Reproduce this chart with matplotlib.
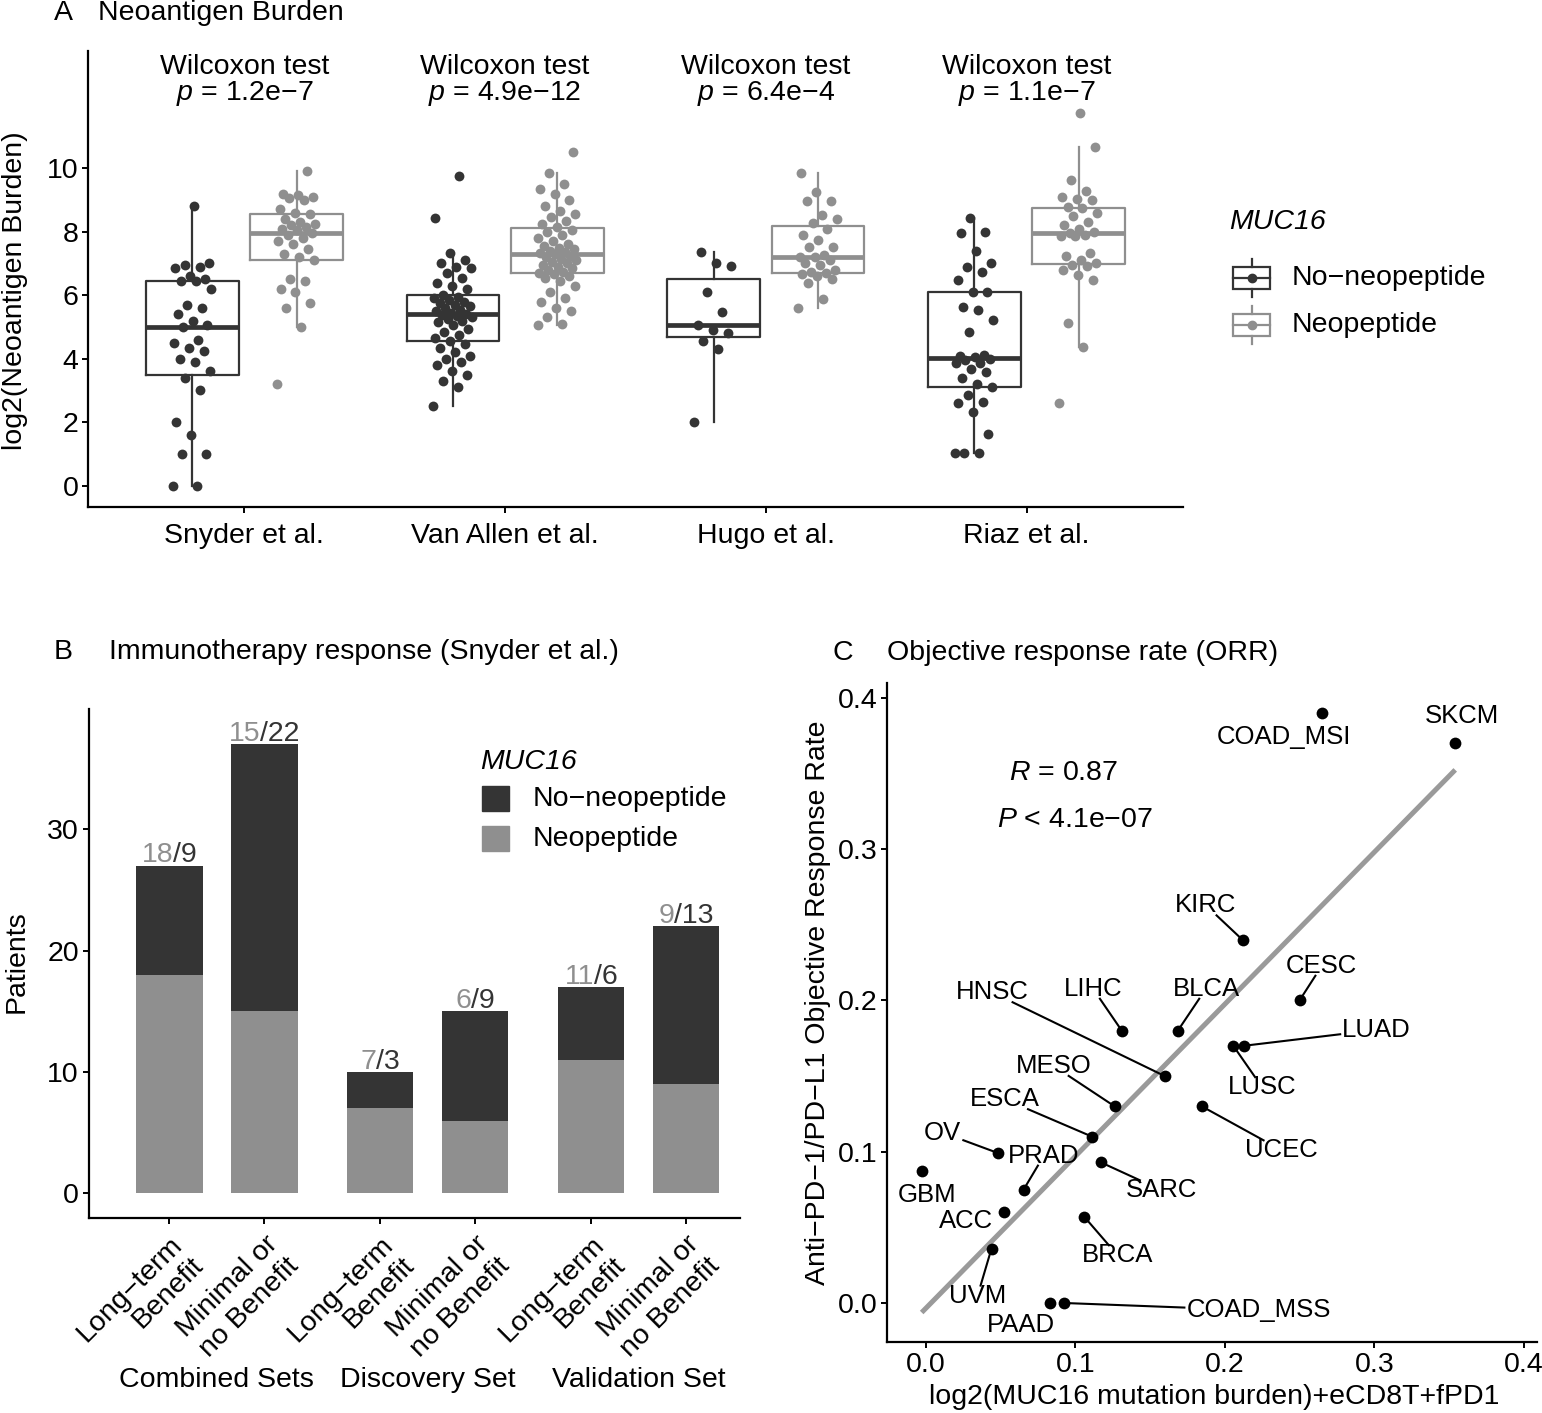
import numpy as np
import matplotlib

matplotlib.use("Agg")
import matplotlib.pyplot as plt
import matplotlib.transforms as mtrans
from matplotlib.lines import Line2D
from matplotlib.patches import Rectangle
from matplotlib.offsetbox import TextArea, HPacker, AnnotationBbox

plt.rcParams["font.family"] = ["Liberation Sans", "DejaVu Sans"]
plt.rcParams["mathtext.fontset"] = "custom"
plt.rcParams["mathtext.it"] = "Liberation Sans:italic"
plt.rcParams["mathtext.rm"] = "Liberation Sans"

W, H = 1542, 1413
DARK, LIGHT = "#343434", "#8f8f8f"
FS = 20.5

# ---------------- A: neoantigen burden per cohort ----------------
cohorts = ["Snyder et al.", "Van Allen et al.", "Hugo et al.", "Riaz et al."]
pvals = ["1.2e−7", "4.9e−12", "6.4e−4", "1.1e−7"]
groups = ["No−neopeptide", "Neopeptide"]

snyder_no = [0.0, 0.0, 1.0, 1.0, 1.6, 2.0, 3.0, 3.4, 3.6, 3.9, 4.0, 4.25, 4.35, 4.5, 4.6,
             5.0, 5.05, 5.2, 5.4, 5.6, 5.7, 6.2, 6.45, 6.45, 6.5, 6.6, 6.85, 6.9, 6.95, 7.0, 8.8]
snyder_neo = [3.2, 5.0, 5.6, 5.75, 6.1, 6.2, 6.45, 6.5, 7.1, 7.2, 7.3, 7.45, 7.6, 7.7, 7.8,
              7.9, 7.97, 8.05, 8.1, 8.15, 8.2, 8.25, 8.3, 8.4, 8.55, 8.6, 8.7, 9.0, 9.05, 9.1,
              9.15, 9.2, 9.9]
vanallen_no = [2.5, 3.1, 3.3, 3.5, 3.6, 3.8, 3.9, 4.0, 4.1, 4.2, 4.35, 4.45, 4.55, 4.65, 4.75,
               4.85, 4.95, 5.05, 5.15, 5.2, 5.25, 5.3, 5.35, 5.38, 5.41, 5.45, 5.5, 5.55, 5.6,
               5.65, 5.7, 5.75, 5.8, 5.85, 5.9, 5.95, 6.0, 6.2, 6.3, 6.4, 6.55, 6.7, 6.85, 6.9,
               7.0, 7.1, 7.34, 8.42, 9.76]
vanallen_neo = [5.06, 5.1, 5.3, 5.5, 5.6, 5.8, 5.9, 6.1, 6.3, 6.45, 6.55, 6.62, 6.68, 6.7, 6.72,
                6.8, 6.85, 6.9, 6.95, 7.0, 7.05, 7.1, 7.15, 7.2, 7.25, 7.29, 7.33, 7.37, 7.4,
                7.45, 7.5, 7.55, 7.6, 7.7, 7.8, 7.9, 8.0, 8.06, 8.15, 8.25, 8.35, 8.45, 8.55,
                8.65, 8.8, 9.0, 9.2, 9.35, 9.5, 9.84, 10.5]
hugo_no = [2.02, 4.3, 4.57, 4.8, 4.91, 5.06, 5.47, 6.11, 6.93, 7.03, 7.37]
hugo_neo = [5.59, 5.87, 6.38, 6.5, 6.6, 6.67, 6.69, 6.72, 6.8, 6.94, 7.0, 7.11, 7.2, 7.21, 7.26,
            7.51, 7.53, 7.74, 7.9, 8.1, 8.27, 8.39, 8.53, 8.98, 8.98, 9.26, 9.86]
riaz_no = [1.02, 1.02, 1.02, 1.62, 2.33, 2.62, 2.65, 2.86, 3.1, 3.2, 3.38, 3.59, 3.67, 3.86,
           3.86, 3.95, 4.0, 4.05, 4.1, 4.12, 4.85, 5.22, 5.54, 5.64, 6.11, 6.11, 6.48, 6.74,
           6.9, 7.0, 7.4, 7.95, 8.0, 8.42]
riaz_neo = [2.62, 4.36, 5.14, 6.48, 6.64, 6.8, 6.92, 6.95, 7.0, 7.11, 7.24, 7.32, 7.85, 7.88,
            7.9, 7.95, 8.0, 8.1, 8.21, 8.29, 8.5, 8.6, 8.74, 8.77, 9.0, 9.02, 9.09, 9.29, 9.63,
            10.68, 11.75]
burden_no = [snyder_no, vanallen_no, hugo_no, riaz_no]
burden_neo = [snyder_neo, vanallen_neo, hugo_neo, riaz_neo]

# ---------------- B: immunotherapy response (Snyder) ----------------
sets = ["Combined Sets", "Discovery Set", "Validation Set"]
benefit = ["Long−term\nBenefit", "Minimal or\nno Benefit"]
n_neo = [18, 15, 7, 6, 11, 9]
n_noneo = [9, 22, 3, 9, 6, 13]

# ---------------- C: ORR vs MUC16 score ----------------
tumours = ["COAD_MSI", "SKCM", "KIRC", "CESC", "LUAD", "LUSC", "BLCA", "LIHC", "HNSC", "MESO",
           "UCEC", "ESCA", "SARC", "OV", "GBM", "PRAD", "ACC", "BRCA", "UVM", "PAAD", "COAD_MSS"]
score = [0.2648, 0.354, 0.2118, 0.2499, 0.2127, 0.2056, 0.1685, 0.131, 0.1597, 0.1262, 0.1845,
         0.111, 0.1169, 0.0485, -0.0028, 0.0654, 0.0521, 0.1059, 0.0439, 0.0828, 0.0921]
orr = [0.39, 0.37, 0.24, 0.20, 0.17, 0.17, 0.18, 0.18, 0.15, 0.13, 0.13, 0.11, 0.093, 0.099,
       0.087, 0.075, 0.06, 0.057, 0.036, 0.0, 0.0]
# where the repelled labels sit (data units)
label_xy = {"COAD_MSI": (0.2394, 0.374), "SKCM": (0.3586, 0.3883), "KIRC": (0.1873, 0.2628),
            "CESC": (0.2648, 0.2229), "LUAD": (0.3014, 0.1805), "LUSC": (0.2248, 0.1427),
            "BLCA": (0.1873, 0.2077), "LIHC": (0.1118, 0.2077), "HNSC": (0.0442, 0.2054),
            "MESO": (0.0854, 0.1567), "UCEC": (0.238, 0.1009), "ESCA": (0.0527, 0.1347),
            "SARC": (0.1577, 0.0745), "OV": (0.0113, 0.1126), "GBM": (0.0008, 0.0716),
            "PRAD": (0.0789, 0.0974), "ACC": (0.0268, 0.0544), "BRCA": (0.1282, 0.0315),
            "UVM": (0.0346, 0.0049), "PAAD": (0.0634, -0.0143), "COAD_MSS": (0.2225, -0.0049)}


def fx(x):
    return x / W


def fy(y):
    return 1 - y / H


def style(ax):
    for s in ["top", "right"]:
        ax.spines[s].set_visible(False)
    for s in ["left", "bottom"]:
        ax.spines[s].set_linewidth(1.6)
    ax.tick_params(length=4, width=1.4, labelsize=FS, pad=3, colors="black")


fig = plt.figure(figsize=(W / 100, H / 100), dpi=100)

# ======================= panel A =======================
axA = fig.add_axes([fx(88), fy(506.7), fx(1183 - 88), (506.7 - 50.7) / H])
style(axA)
off = 0.2
for i in range(4):
    for g, (vals, col) in enumerate([(burden_no[i], DARK), (burden_neo[i], LIGHT)]):
        pos = i + 1 + (off if g else -off)
        axA.boxplot(vals, positions=[pos], widths=0.355, showfliers=False, showcaps=False,
                    boxprops=dict(color=col, lw=1.6), whiskerprops=dict(color=col, lw=1.6),
                    medianprops=dict(color=col, lw=3.4), manage_ticks=False)
        n = len(vals)
        # fixed horizontal spread so the points do not sit on one line
        jit = ((np.arange(n) * 0.6180339887) % 1 - 0.5) * 0.15
        axA.scatter(pos + jit, vals, s=50, color=col, zorder=3, linewidths=0)
    axA.text(i + 1, 13.2, "Wilcoxon test", ha="center", va="center", fontsize=FS)
    axA.text(i + 1, 12.36, r"$\mathit{p}$ = " + pvals[i], ha="center", va="center", fontsize=FS)
axA.set_xlim(0.4, 4.6)
axA.set_ylim(-0.66, 13.7)
axA.set_yticks(range(0, 11, 2))
axA.set_xticks(range(1, 5), cohorts)
axA.tick_params(axis="x", pad=8)
fig.text(fx(15), fy(291), "log2(Neoantigen Burden)", rotation=90, ha="center", va="center",
         fontsize=FS)
fig.text(fx(54), fy(13), "A", ha="left", va="center", fontsize=FS)
fig.text(fx(98), fy(13), "Neoantigen Burden", ha="left", va="center", fontsize=FS)

# legend A (mini boxplot keys)
fig.text(fx(1229), fy(222), "MUC16", style="italic", ha="left", va="center", fontsize=FS)
for lab, col, yc in [(groups[0], DARK, 278), (groups[1], LIGHT, 324.5)]:
    fig.add_artist(Rectangle((fx(1233), fy(yc + 11)), (1270 - 1233) / W, 22 / H, fill=False,
                             ec=col, lw=1.6, transform=fig.transFigure))
    fig.add_artist(Line2D([fx(1251.5)] * 2, [fy(yc - 19), fy(yc - 11)], color=col, lw=1.6,
                          transform=fig.transFigure))
    fig.add_artist(Line2D([fx(1251.5)] * 2, [fy(yc + 11), fy(yc + 19)], color=col, lw=1.6,
                          transform=fig.transFigure))
    fig.add_artist(Line2D([fx(1233), fx(1270)], [fy(yc)] * 2, color=col, lw=1.6,
                          transform=fig.transFigure))
    fig.add_artist(Line2D([fx(1251.5)], [fy(yc)], marker="o", ms=6, color=col, lw=0,
                          transform=fig.transFigure))
    fig.text(fx(1292), fy(yc), lab, ha="left", va="center", fontsize=FS)

# ======================= panel B =======================
axB = fig.add_axes([fx(88.7), fy(1217.5), fx(740 - 88.7), (1217.5 - 709) / H])
style(axB)
gap = 2.22
xb = np.array([s * gap + j for s in range(len(sets)) for j in range(len(benefit))])
axB.bar(xb, n_neo, width=0.7, color=LIGHT, label=groups[1])
axB.bar(xb, n_noneo, width=0.7, bottom=n_neo, color=DARK, label=groups[0])
for x, a, b in zip(xb, n_neo, n_noneo):
    box = HPacker(children=[TextArea(str(a), textprops=dict(color=LIGHT, fontsize=FS)),
                            TextArea("/" + str(b), textprops=dict(color=DARK, fontsize=FS))],
                  align="baseline", pad=0, sep=0)
    axB.add_artist(AnnotationBbox(box, (x, a + b), box_alignment=(0.5, 0.1), frameon=False,
                                  pad=0, xycoords="data"))
axB.set_xlim(-0.85, xb[-1] + 0.57)
axB.set_ylim(-1.98, 39.9)
axB.set_yticks([0, 10, 20, 30])
axB.set_xticks(xb, benefit * len(sets))
for t in axB.get_xticklabels():
    t.set_rotation(45)
    t.set_ha("right")
    t.set_va("top")
    t.set_rotation_mode("anchor")
    t.set_multialignment("right")
axB.tick_params(axis="x", pad=6)
tr = mtrans.blended_transform_factory(axB.transData, fig.transFigure)
for s, name in enumerate(sets):
    axB.text(s * gap + 0.5, fy(1380), name, transform=tr, ha="center", va="center", fontsize=FS)
fig.text(fx(17), fy(962), "Patients", rotation=90, ha="center", va="center", fontsize=FS)
fig.text(fx(54), fy(652), "B", ha="left", va="center", fontsize=FS)
fig.text(fx(109), fy(652), "Immunotherapy response (Snyder et al.)", ha="left", va="center",
         fontsize=FS)
fig.text(fx(480), fy(762), "MUC16", style="italic", ha="left", va="center", fontsize=FS)
for lab, col, yc in [(groups[0], DARK, 798.5), (groups[1], LIGHT, 838.5)]:
    fig.add_artist(Rectangle((fx(482), fy(yc + 12.5)), 26.5 / W, 25 / H, color=col,
                             transform=fig.transFigure))
    fig.text(fx(533), fy(yc), lab, ha="left", va="center", fontsize=FS)

# ======================= panel C =======================
axC = fig.add_axes([fx(887), fy(1342), fx(1537 - 887), (1342 - 682.7) / H])
style(axC)
sx, sy = np.array(score), np.array(orr)
k, b0 = np.polyfit(sx, sy, 1)
xl = np.array([sx.min(), sx.max()])
axC.plot(xl, k * xl + b0, color="#9a9a9a", lw=3.6, zorder=1, solid_capstyle="butt")
axC.scatter(sx, sy, s=72, color="black", zorder=4, linewidths=0)
axC.set_xlim(-0.026, 0.4087)
axC.set_ylim(-0.0258, 0.41)
axC.set_xticks([0.0, 0.1, 0.2, 0.3, 0.4])
axC.set_yticks([0.0, 0.1, 0.2, 0.3, 0.4])
axC.xaxis.set_major_formatter(matplotlib.ticker.FormatStrFormatter("%.1f"))
axC.yaxis.set_major_formatter(matplotlib.ticker.FormatStrFormatter("%.1f"))
texts = {}
for name in tumours:
    lx, ly = label_xy[name]
    texts[name] = axC.text(lx, ly, name, ha="center", va="center", fontsize=18.5, zorder=5)
axC.text(0.092, 0.35, r"$\mathit{R}$ = 0.87", ha="center", va="center", fontsize=FS)
axC.text(0.1, 0.319, r"$\mathit{P}$ < 4.1e−07", ha="center", va="center", fontsize=FS)

# leader lines, ggrepel style: from the label box edge to the point, skipped when close
fig.canvas.draw()
rend = fig.canvas.get_renderer()
inv = axC.transData.inverted()
for name, x, y in zip(tumours, score, orr):
    bb = texts[name].get_window_extent(rend)
    p = axC.transData.transform((x, y))
    c = np.array([(bb.x0 + bb.x1) / 2, (bb.y0 + bb.y1) / 2])
    hw, hh = bb.width / 2 + 2, bb.height / 2 - 2
    d = p - c
    near = np.hypot(max(abs(d[0]) - hw, 0), max(abs(d[1]) - hh, 0))
    if near < 19:
        continue
    s = min(hw / abs(d[0]) if d[0] else np.inf, hh / abs(d[1]) if d[1] else np.inf)
    e = c + s * d
    seg = inv.transform(np.vstack([e, p]))
    axC.plot(seg[:, 0], seg[:, 1], color="black", lw=1.5, zorder=2)

fig.text(fx(818), fy(1003), "Anti−PD−1/PD−L1 Objective Response Rate", rotation=90,
         ha="center", va="center", fontsize=FS)
fig.text(fx(1214), fy(1397), "log2(MUC16 mutation burden)+eCD8T+fPD1", ha="center",
         va="center", fontsize=FS)
fig.text(fx(833), fy(653), "C", ha="left", va="center", fontsize=FS)
fig.text(fx(887), fy(653), "Objective response rate (ORR)", ha="left", va="center", fontsize=FS)

fig.savefig("out.png", dpi=100)
